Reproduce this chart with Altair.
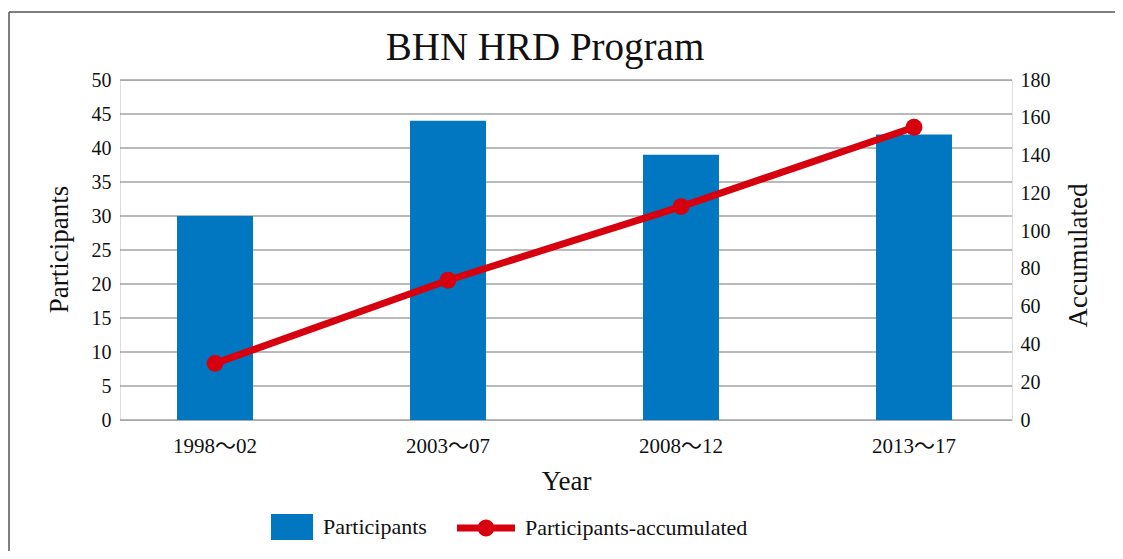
import altair as alt
import pandas as pd

# ---- data ----
periods = ["1998～02", "2003～07", "2008～12", "2013～17"]
participants = [30, 44, 39, 42]
accumulated = [30, 74, 113, 155]
series_names = ["Participants", "Participants-accumulated"]
left_ticks = [0, 5, 10, 15, 20, 25, 30, 35, 40, 45, 50]
right_ticks = [0, 20, 40, 60, 80, 100, 120, 140, 160, 180]
title_text = "BHN HRD Program"

BLUE = "#0077C0"
RED = "#D7000F"
FONT = "'Liberation Serif', 'Noto Sans CJK JP', serif"

df = pd.DataFrame({"Year": periods, "Participants": participants, "Accumulated": accumulated})
legend_df = pd.DataFrame({"series": series_names})
grid_df = pd.DataFrame({"tick": left_ticks})
one = pd.DataFrame({"k": [0]})

W, H = 892, 340

xscale = alt.Scale(domain=periods, range=[-21.5, 910.5], paddingInner=0.674, paddingOuter=0.337)
xaxis = alt.Axis(title="Year", labelAngle=0, domain=False, ticks=False, tickSize=0, grid=False,
                 labelFontSize=21, labelPadding=15, labelFont=FONT, labelColor="#111",
                 titleFont=FONT, titleFontSize=27, titleFontWeight="normal", titleColor="#111",
                 titleX=446, titleY=69, titleBaseline="alphabetic", titleAlign="center")

left_scale = alt.Scale(domain=[0, 50], nice=False)

grid = alt.Chart(grid_df).mark_rule(color="#777777", strokeWidth=1.2).encode(
    y=alt.Y("tick:Q", scale=left_scale, axis=None),
    x=alt.value(0), x2=alt.value(W),
)

bars = alt.Chart(df).mark_bar(color=BLUE).encode(
    x=alt.X("Year:N", scale=xscale, axis=xaxis, sort=periods),
    y=alt.Y("Participants:Q", scale=left_scale,
            axis=alt.Axis(title="Participants", values=left_ticks, domain=False,
                          ticks=False, tickSize=0, grid=False,
                          labelFontSize=20, labelPadding=9, labelFont=FONT, labelColor="#111",
                          titleFont=FONT, titleFontSize=27, titleFontWeight="normal", titleColor="#111",
                          titleAngle=270, titleBaseline="middle", titleAlign="center",
                          titleX=-61, titleY=169)),
)

line = alt.Chart(df).mark_line(
    color=RED, strokeWidth=7,
    point=alt.OverlayMarkDef(color=RED, filled=True, size=284, opacity=1),
).encode(
    x=alt.X("Year:N", scale=xscale, sort=periods),
    y=alt.Y("Accumulated:Q", scale=alt.Scale(domain=[0, 180], nice=False),
            axis=alt.Axis(title="Accumulated", orient="right", values=right_ticks,
                          domain=False, ticks=False, tickSize=0, grid=False,
                          labelFontSize=20, labelPadding=8, labelFont=FONT, labelColor="#111",
                          titleFont=FONT, titleFontSize=27, titleFontWeight="normal", titleColor="#111",
                          titleAngle=270, titleBaseline="middle", titleAlign="center",
                          titleX=66, titleY=175)),
)

rect_path = "M-0.448,-0.448H1V0.448H-0.448Z"
line_path = ("M-1,-0.12H1V0.12H-1Z "
             "M0.29,0A0.29,0.29,0,1,1,-0.29,0A0.29,0.29,0,1,1,0.29,0Z")

leg = alt.Legend(title=None, orient="none", legendX=135, legendY=418, direction="horizontal",
                 symbolSize=3364, symbolStrokeWidth=0, labelFont=FONT, labelFontSize=22,
                 labelColor="#111", labelOffset=10, columnPadding=30, padding=0, labelLimit=400)

legend_layer = alt.Chart(legend_df).transform_filter("false").mark_point(filled=True, opacity=1).encode(
    color=alt.Color("series:N", scale=alt.Scale(domain=series_names, range=[BLUE, RED]), legend=leg),
    shape=alt.Shape("series:N", scale=alt.Scale(domain=series_names, range=[rect_path, line_path]), legend=leg),
)

title_mark = alt.Chart(one).mark_text(font=FONT, fontSize=39, align="center", baseline="alphabetic",
                                      color="#111").encode(
    x=alt.value(425), y=alt.value(-20.5), text=alt.value(title_text))

frame_left = alt.Chart(one).mark_rule(color="#555", strokeWidth=1.5).encode(
    x=alt.value(-111), y=alt.value(-68), y2=alt.value(480))
frame_top = alt.Chart(one).mark_rule(color="#555", strokeWidth=1.5).encode(
    x=alt.value(-111), x2=alt.value(995), y=alt.value(-68))

chart = alt.layer(grid, bars, line, legend_layer, title_mark, frame_left, frame_top).resolve_scale(
    y="independent"
).properties(
    width=W, height=H,
    autosize=alt.AutoSizeParams(type="none"),
    padding={"left": 112, "top": 72, "right": 103, "bottom": 131},
).configure_view(stroke=None).configure(background="white")

chart.save("out.html", embed_options={"renderer": "svg", "actions": False})
